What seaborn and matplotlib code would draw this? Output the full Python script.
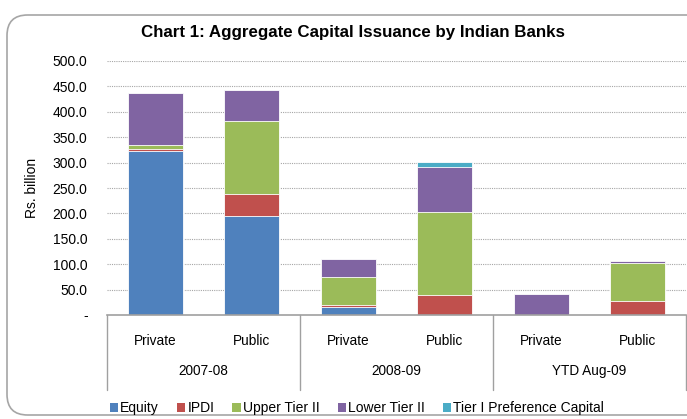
import matplotlib
matplotlib.use("Agg")
import matplotlib.pyplot as plt
import seaborn as sns
import pandas as pd
import numpy as np
from matplotlib.patches import FancyBboxPatch, Patch
from matplotlib.lines import Line2D
import matplotlib.transforms as mtransforms

sns.set_theme(style="white")
plt.rcParams['font.family'] = ['Liberation Sans', 'DejaVu Sans']
plt.rcParams['text.color'] = 'black'
plt.rcParams['axes.labelcolor'] = 'black'
plt.rcParams['xtick.color'] = 'black'
plt.rcParams['ytick.color'] = 'black'

years = ["2007-08", "2008-09", "YTD Aug-09"]
sectors = ["Private", "Public"]
bars = ["2007-08 Private", "2007-08 Public", "2008-09 Private", "2008-09 Public",
        "YTD Private", "YTD Public"]
series = ["Equity", "IPDI", "Upper Tier II", "Lower Tier II", "Tier I Preference Capital"]
equity = [323, 194, 16, 0, 0, 0]
ipdi = [3, 45, 4, 40, 0, 27]
upper_t2 = [9, 143, 55, 163, 0, 75]
lower_t2 = [102, 61, 36, 88, 42, 5]
tier1_pref = [0, 0, 0, 11, 0, 0]
colors = ["#4F81BD", "#C0504D", "#9BBB59", "#8064A2", "#4BACC6"]
yticks = [0, 50, 100, 150, 200, 250, 300, 350, 400, 450, 500]

fig = plt.figure(figsize=(6.87, 4.19), dpi=100)
frame = FancyBboxPatch((7 / 687, 4 / 419), 720 / 687, 400 / 419,
                       boxstyle="round,pad=0,rounding_size=0.03",
                       transform=fig.transFigure, facecolor="white",
                       edgecolor="#A6A6A6", linewidth=1.2, zorder=-10,
                       mutation_aspect=687 / 419)
fig.patches.append(frame)

ax = fig.add_axes([107 / 687, 1 - 315 / 419, 579 / 687, 254 / 419])
ax.set_facecolor("none")
ax.set_zorder(5)

vals = np.array([equity, ipdi, upper_t2, lower_t2, tier1_pref], dtype=float)
cum = np.cumsum(vals, axis=0)

for i in range(len(series) - 1, -1, -1):
    df = pd.DataFrame({"bar": bars, "value": cum[i]})
    sns.barplot(data=df, x="bar", y="value", color=colors[i], ax=ax,
                width=0.57, saturation=1, edgecolor="white", linewidth=0.6,
                order=bars, zorder=2)

ax.set_ylim(0, 500)
ax.set_xlim(-0.5, 5.5)
ax.set_yticks(yticks)
ax.set_yticklabels(["-"] + [f"{v:.1f}" for v in yticks[1:]], fontsize=10, color="#000000")
ax.yaxis.grid(True, linestyle=(0, (1, 1)), color="#A6A6A6", linewidth=0.8, zorder=0)
ax.set_axisbelow(True)
for s in ["top", "right", "left"]:
    ax.spines[s].set_visible(False)
ax.spines["bottom"].set_color("#A0A0A0")
ax.spines["bottom"].set_linewidth(1.2)
ax.tick_params(axis="y", length=0, pad=14)
ax.set_xticks(range(6))
ax.set_xticklabels([sectors[i % 2] for i in range(6)], fontsize=9.8)
ax.tick_params(axis="x", length=0, pad=14)
ax.set_xlabel("")
ax.set_ylabel("Rs. billion", fontsize=10, labelpad=10)

trans = mtransforms.blended_transform_factory(ax.transData, fig.transFigure)
for x in [-0.5, 1.5, 3.5, 5.5]:
    ax.add_artist(Line2D([x, x], [1 - 315 / 419, 1 - 390 / 419], transform=trans,
                         color="#A0A0A0", linewidth=1.0, clip_on=False))
for k, y in enumerate(years):
    ax.text(2 * k + 0.5, 1 - 371 / 419, y, transform=trans, ha="center", va="center",
            fontsize=9.8)

fig.text(353 / 687, 1 - 33 / 419, "Chart 1: Aggregate Capital Issuance by Indian Banks",
         ha="center", va="center", fontsize=12.2, fontweight="bold")

handles = [Patch(facecolor=c, edgecolor="none") for c in colors]
fig.legend(handles, series, loc="center", bbox_to_anchor=(357 / 687, 1 - 408 / 419),
           ncol=5, frameon=False, fontsize=10, handlelength=0.6, handleheight=0.6,
           handletextpad=0.15, columnspacing=1.3)

fig.savefig("out.png", dpi=100)
